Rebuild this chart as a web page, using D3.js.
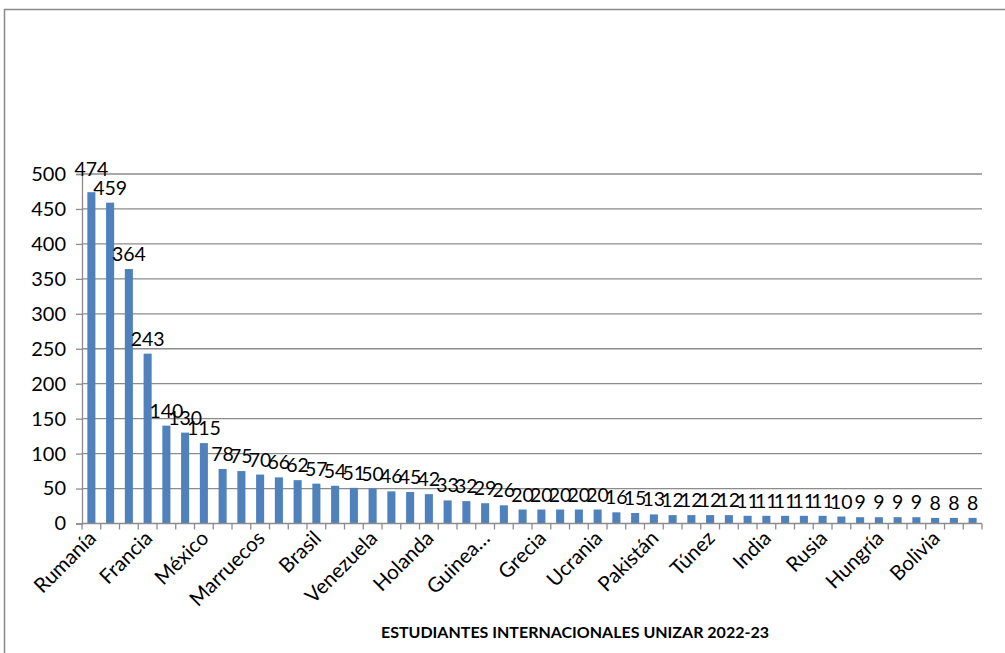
<!DOCTYPE html>
<html>
<head>
<meta charset="utf-8">
<script src="https://cdn.jsdelivr.net/npm/d3@7"></script>
<style>
  body { margin: 0; background: #fff; }
  svg text { font-family: Lato, "Open Sans", sans-serif; fill: #000; }
</style>
</head>
<body>
<div id="chart"></div>
<script>
//****data****
// only every third country name is printed on the axis
const countries = ["Rumanía", "", "", "Francia", "", "", "México", "", "", "Marruecos", "", "",
    "Brasil", "", "", "Venezuela", "", "", "Holanda", "", "", "Guinea…", "", "",
    "Grecia", "", "", "Ucrania", "", "", "Pakistán", "", "", "Túnez", "", "",
    "India", "", "", "Rusia", "", "", "Hungría", "", "", "Bolivia", "", ""];
const students = [474, 459, 364, 243, 140, 130, 115, 78, 75, 70, 66, 62,
    57, 54, 51, 50, 46, 45, 42, 33, 32, 29, 26, 20,
    20, 20, 20, 20, 16, 15, 13, 12, 12, 12, 12, 11,
    11, 11, 11, 11, 10, 9, 9, 9, 9, 8, 8, 8];
const yTicks = [0, 50, 100, 150, 200, 250, 300, 350, 400, 450, 500];
const chartTitle = "ESTUDIANTES INTERNACIONALES UNIZAR 2022-23";

//****configuration****
const w = 1005;
const h = 653;
const plotLeft = 82, plotRight = 982, plotTop = 174, plotBottom = 523.5;
const barColor = "#4F81BD";
const gridColor = "#8c8c8c";

const svg = d3.select("#chart")
    .append("svg")
    .attr("width", w)
    .attr("height", h);

// outer chart frame (runs off the right and bottom of the picture)
svg.append("rect")
    .attr("x", 4.5)
    .attr("y", 9.5)
    .attr("width", w + 20)
    .attr("height", h + 20)
    .attr("fill", "none")
    .attr("stroke", "#8a8a8a")
    .attr("stroke-width", 1.5);

const x = d3.scaleBand()
    .domain(d3.range(students.length))
    .range([plotLeft, plotRight])
    .paddingInner(0.57)
    .paddingOuter(0.285);

const y = d3.scaleLinear()
    .domain([0, 500])
    .range([plotBottom, plotTop]);

// gridlines
svg.append("g")
    .selectAll("line")
    .data(yTicks.slice(1))
    .join("line")
    .attr("x1", plotLeft)
    .attr("x2", plotRight)
    .attr("y1", d => y(d))
    .attr("y2", d => y(d))
    .attr("stroke", gridColor)
    .attr("stroke-width", 1.3);

// y axis
const yAxis = svg.append("g")
    .attr("transform", "translate(" + plotLeft + ",0)")
    .call(d3.axisLeft(y).tickValues(yTicks).tickSize(6).tickPadding(10));
yAxis.select(".domain").attr("stroke", gridColor).attr("stroke-width", 1.3);
yAxis.selectAll(".tick line").attr("stroke", gridColor).attr("stroke-width", 1.3);
yAxis.selectAll(".tick text")
    .attr("font-size", 20)
    .attr("font-family", "Lato, sans-serif")
    .attr("fill", "#000");

// bars
svg.append("g")
    .selectAll("rect")
    .data(students)
    .join("rect")
    .attr("x", (d, i) => x(i))
    .attr("y", d => y(d))
    .attr("width", x.bandwidth())
    .attr("height", d => y(0) - y(d))
    .attr("fill", barColor);

// value labels
svg.append("g")
    .selectAll("text")
    .data(students)
    .join("text")
    .attr("x", (d, i) => x(i) + x.bandwidth() / 2)
    .attr("y", (d, i) => y(d) - (i === 0 ? 16 : 8))
    .attr("text-anchor", "middle")
    .attr("font-size", 19.5)
    .text(d => d);

// x axis, ticks at band edges
const step = x.step();
const xAxisG = svg.append("g");
xAxisG.append("line")
    .attr("x1", plotLeft)
    .attr("x2", plotRight)
    .attr("y1", plotBottom)
    .attr("y2", plotBottom)
    .attr("stroke", gridColor)
    .attr("stroke-width", 1.3);
xAxisG.selectAll(".xtick")
    .data(d3.range(students.length + 1))
    .join("line")
    .attr("class", "xtick")
    .attr("x1", i => plotLeft + i * step)
    .attr("x2", i => plotLeft + i * step)
    .attr("y1", plotBottom)
    .attr("y2", plotBottom + 6)
    .attr("stroke", gridColor)
    .attr("stroke-width", 1.3);

xAxisG.selectAll(".xlabel")
    .data(countries)
    .join("text")
    .attr("class", "xlabel")
    .attr("text-anchor", "end")
    .attr("font-size", 20.5)
    .attr("transform", (d, i) => {
        const cx = x(i) + x.bandwidth() / 2 + 6;
        return "translate(" + cx + "," + (plotBottom + 16) + ") rotate(-45)";
    })
    .text(d => d);

// title under the axis
svg.append("text")
    .attr("x", 575)
    .attr("y", 638)
    .attr("text-anchor", "middle")
    .attr("font-size", 16)
    .attr("font-weight", "bold")
    .text(chartTitle);
</script>
</body>
</html>
